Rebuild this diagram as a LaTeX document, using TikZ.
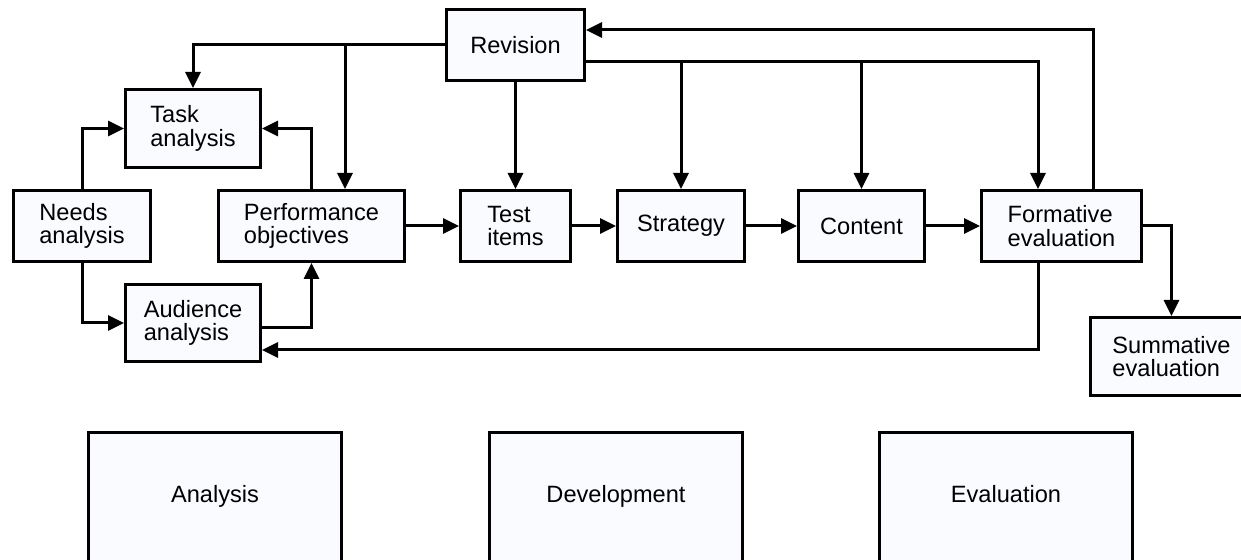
\documentclass[tikz,border=0pt]{standalone}
\usepackage{fontspec}
\setmainfont{Liberation Sans}
\usetikzlibrary{arrows.meta}
\definecolor{boxfill}{RGB}{250,251,254}
\tikzset{
  stage/.style={draw=black, fill=boxfill, line width=1.5pt, align=left,
    inner sep=0pt, font=\fontsize{11.8}{11.7}\selectfont},
  phase/.style={stage, minimum width=128pt-1.5pt, minimum height=68.5pt,
    text height=8.45pt, text depth=7.55pt},
  arr/.style={line width=1.5pt, -{Triangle[length=8pt,width=7.5pt]}},
}
\begin{document}
\begin{tikzpicture}[x=0.5pt,y=-0.5pt]
\useasboundingbox (0,0) rectangle (1241,560);
% sizes are given in pixels of the 1241-wide layout (1px = 0.5pt)
\newcommand{\boxat}[6]{%
  \node[stage, minimum width=#4*0.5pt-1.5pt, minimum height=#5*0.5pt-1.5pt] (#1) at (#2,#3) {#6};}
\boxat{rev}{515.5}{45}{141}{74}{Revision}
\boxat{task}{193}{128.5}{138}{81}{Task\\analysis}
\boxat{needs}{82}{226}{140}{74}{Needs\\analysis}
\boxat{perf}{311.5}{226}{189}{74}{Performance\\objectives}
\boxat{aud}{193}{323}{138}{80}{Audience\\analysis}
\boxat{test}{515.5}{226}{113}{74}{Test\\items}
\boxat{strat}{681}{226}{130}{74}{Strategy}
\boxat{cont}{861.5}{226}{129}{74}{Content}
\boxat{form}{1061.5}{226}{163}{74}{Formative\\evaluation}
\boxat{summ}{1171.5}{356.5}{165}{81}{Summative\\evaluation}
% phase boxes along the bottom (they run past the lower edge)
\node[phase] (ana) at (215,501.5) {Analysis};
\node[phase] (dev) at (616,501.5) {Development};
\node[phase] (eva) at (1006,501.5) {Evaluation};
% feedback from revision
\coordinate (jp) at (345,45);
\draw[arr] (rev.west) -| (task.north);
\draw[arr] (jp) -- (jp |- perf.north);
\draw[arr] (rev.south) -- (test.north);
\coordinate (rr) at (rev.east |- 0,62);
\coordinate (js) at (681,62);
\coordinate (jc) at (861.5,62);
\draw[arr] (rr) -| (1038,0 |- form.north);
\draw[arr] (js) -- (strat.north);
\draw[arr] (jc) -- (cont.north);
\draw[arr] (1093,0 |- form.north) |- (rev.east |- 0,30);
% analysis block
\draw[arr] (needs.north) |- (task.west);
\draw[arr] (needs.south) |- (aud.west);
\draw[arr] (perf.north) |- (task.east);
\draw[arr] (aud.east |- 0,328) -| (perf.south);
\draw[arr] (1038,0 |- form.south) |- (aud.east |- 0,350);
% main chain
\draw[arr] (perf.east) -- (test.west);
\draw[arr] (test.east) -- (strat.west);
\draw[arr] (strat.east) -- (cont.west);
\draw[arr] (cont.east) -- (form.west);
\draw[arr] (form.east) -| (summ.north);
\end{tikzpicture}
\end{document}
